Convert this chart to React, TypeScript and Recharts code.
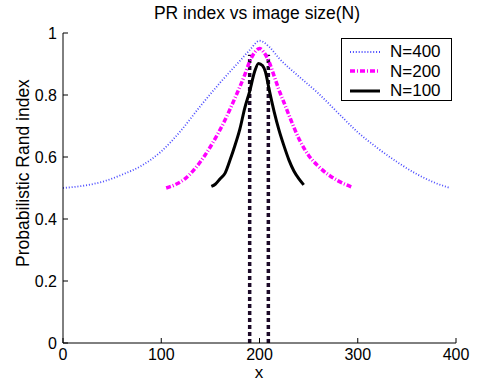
import { LineChart, Line, XAxis, YAxis } from "recharts";

const xTicks = [0, 100, 200, 300, 400];
const yTicks = [0, 0.2, 0.4, 0.6, 0.8, 1];

// N=400 (blue dotted)
const n400X = [0, 20, 40, 60, 80, 100, 120, 140, 160, 180, 190, 200, 210, 220, 240, 260, 280, 300, 320, 340, 360, 380, 394];
const n400Y = [0.5, 0.507, 0.52, 0.543, 0.572, 0.618, 0.685, 0.765, 0.84, 0.91, 0.945, 0.975, 0.955, 0.918, 0.86, 0.805, 0.742, 0.68, 0.629, 0.584, 0.545, 0.515, 0.5];

// N=200 (magenta dash-dot)
const n200X = [105, 115, 125, 135, 145, 155, 165, 175, 185, 190, 195, 200, 205, 210, 215, 220, 225, 230, 240, 250, 260, 270, 280, 294];
const n200Y = [0.5, 0.512, 0.532, 0.565, 0.608, 0.66, 0.72, 0.79, 0.865, 0.908, 0.937, 0.95, 0.935, 0.905, 0.86, 0.815, 0.775, 0.735, 0.66, 0.605, 0.57, 0.543, 0.523, 0.503];

// N=100 (black solid)
const n100X = [151, 155, 160, 165, 170, 175, 180, 185, 190, 195, 199, 203, 206, 210, 215, 220, 225, 230, 235, 240, 245];
const n100Y = [0.505, 0.512, 0.53, 0.548, 0.59, 0.637, 0.69, 0.758, 0.812, 0.875, 0.902, 0.895, 0.875, 0.815, 0.745, 0.685, 0.635, 0.59, 0.555, 0.53, 0.51];

// vertical dashed cut lines
const cutX = [190, 209];
const cutTop = 0.93;

const toPts = (xs: number[], ys: number[]) => xs.map((x, i) => ({ x, v: ys[i] }));

const font = "'Liberation Sans', Arial, Helvetica, sans-serif";

const series = [
  { name: "N=400", data: toPts(n400X, n400Y), stroke: "#4a4aff", width: 1.8, dash: "1 1.9" },
  { name: "N=200", data: toPts(n200X, n200Y), stroke: "#ff00ff", width: 3.5, dash: "5 2 1 2" },
  { name: "N=100", data: toPts(n100X, n100Y), stroke: "#000000", width: 3, dash: undefined as string | undefined },
];

const tickStyle = { fill: "#000", fontSize: 16, fontFamily: font };

export default function App() {
  return (
    <div style={{ position: "absolute", left: 0, top: 0, width: 478, height: 381, background: "#fff", fontFamily: font }}>
      <LineChart width={478} height={381} margin={{ top: 33, right: 22, bottom: 0, left: 0 }}>
        <XAxis
          dataKey="x"
          type="number"
          domain={[0, 400]}
          ticks={xTicks}
          allowDataOverflow
          height={38}
          tickSize={-5}
          tickMargin={11}
          tick={tickStyle}
          stroke="#000"
          tickLine={{ stroke: "#000" }}
          axisLine={{ stroke: "#000" }}
        />
        <XAxis
          xAxisId="top"
          orientation="top"
          type="number"
          domain={[0, 400]}
          ticks={xTicks}
          height={0}
          tickSize={-5}
          tick={false}
          stroke="#000"
        />
        <YAxis
          type="number"
          domain={[0, 1]}
          ticks={yTicks}
          allowDataOverflow
          width={63}
          tickSize={-5}
          tickMargin={11}
          tick={tickStyle}
          stroke="#000"
        />
        <YAxis
          yAxisId="right"
          orientation="right"
          type="number"
          domain={[0, 1]}
          ticks={yTicks}
          width={0}
          tickSize={-5}
          tick={false}
          stroke="#000"
        />
        {cutX.map((cx) => (
          <Line
            key={"cut" + cx}
            data={[{ x: cx, v: 0 }, { x: cx, v: cutTop }]}
            dataKey="v"
            stroke="#1c0a28"
            strokeWidth={3.5}
            strokeDasharray="4 3"
            dot={false}
            activeDot={false}
            isAnimationActive={false}
          />
        ))}
        {series.map((s) => (
          <Line
            key={s.name}
            data={s.data}
            dataKey="v"
            name={s.name}
            type="monotone"
            stroke={s.stroke}
            strokeWidth={s.width}
            strokeDasharray={s.dash}
            dot={false}
            activeDot={false}
            isAnimationActive={false}
          />
        ))}
      </LineChart>

      <div style={{ position: "absolute", left: 257, top: 3, transform: "translateX(-50%)", fontSize: 17.5, whiteSpace: "nowrap" }}>
        PR index vs image size(N)
      </div>
      <div style={{ position: "absolute", left: 259, top: 368, transform: "translateX(-50%)", fontSize: 17, lineHeight: "10px" }}>x</div>
      <div
        style={{
          position: "absolute",
          left: 23,
          top: 173,
          transform: "translate(-50%, -50%) rotate(-90deg)",
          fontSize: 17.5,
          whiteSpace: "nowrap",
        }}
      >
        Probabilistic Rand index
      </div>

      <div
        style={{
          position: "absolute",
          left: 341,
          top: 38,
          width: 109,
          height: 61,
          border: "1px solid #000",
          background: "#fff",
          fontSize: 17,
        }}
      >
        {series.map((s, i) => (
          <div key={s.name} style={{ position: "absolute", left: 8, top: 3 + i * 19.5, height: 19, display: "flex", alignItems: "center" }}>
            <svg width={30} height={10} style={{ display: "block" }}>
              <line x1={0} y1={5} x2={30} y2={5} stroke={s.stroke} strokeWidth={s.width} strokeDasharray={s.dash} />
            </svg>
            <span style={{ marginLeft: 10, lineHeight: "19px" }}>{s.name}</span>
          </div>
        ))}
      </div>
    </div>
  );
}
